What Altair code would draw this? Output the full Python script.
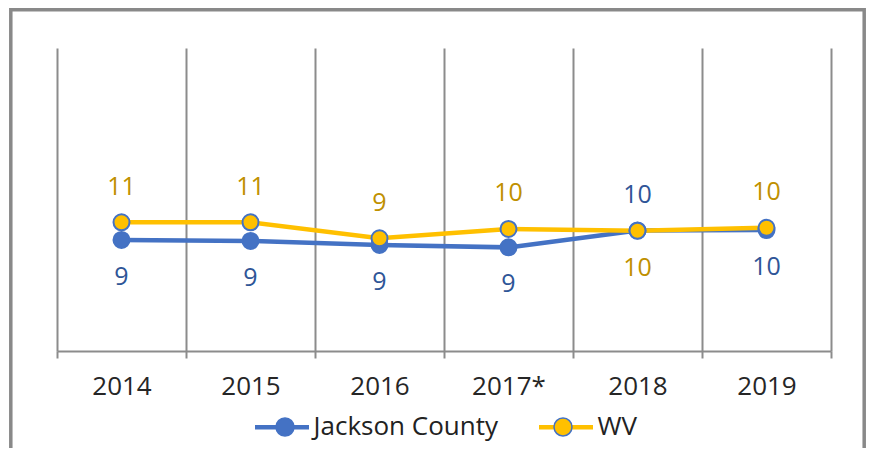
import altair as alt
import pandas as pd

FONT = "Open Sans"

years = ["2014", "2015", "2016", "2017*", "2018", "2019"]
jackson_county = [9.16, 9.08, 8.75, 8.55, 9.95, 9.98]
wv = [10.62, 10.62, 9.30, 10.07, 9.92, 10.17]
series_names = ["Jackson County", "WV"]
series_colors = ["#4472C4", "#FFC000"]
label_colors = ["#2F5597", "#BF9000"]

rows = []
for i, yr in enumerate(years):
    for name, vals, other in [("Jackson County", jackson_county, wv), ("WV", wv, jackson_county)]:
        rows.append({"year": yr, "series": name, "entity": name,
                     "value": vals[i], "above": bool(vals[i] >= other[i])})
df = pd.DataFrame(rows)

W, H = 774, 303
GRID = "#8C8C8C"

base = alt.Chart(df).encode(
    x=alt.X("year:N", sort=years, title=None,
            scale=alt.Scale(paddingInner=0, paddingOuter=0),
            axis=alt.Axis(labelAngle=0, labelFont=FONT, labelFontSize=26, labelColor="#262626",
                          labelPadding=15, domainColor=GRID, domainWidth=2,
                          tickColor=GRID, tickWidth=2, tickSize=7, tickBand="extent",
                          grid=True, gridColor=GRID, gridWidth=2)),
    y=alt.Y("value:Q", scale=alt.Scale(domain=[0, 25]), axis=None),
)

LX = 195.5
LABEL_W = 183  # approx. rendered width of the first legend label
lines = base.mark_line(strokeWidth=4.5).encode(
    color=alt.Color("series:N", scale=alt.Scale(domain=series_names, range=series_colors),
                    legend=alt.Legend(title=None, orient="none", legendX=LX, legendY=349.5,
                                      direction="horizontal", columns=2,
                                      symbolType="stroke", symbolSize=2916, symbolStrokeWidth=4.5,
                                      labelFont=FONT, labelFontSize=26, labelColor="#222222",
                                      labelLimit=400, labelOffset=2, columnPadding=31, padding=0))
)

points = base.mark_point(filled=True, size=256, opacity=1).encode(
    fill=alt.Fill("entity:N", scale=alt.Scale(range=series_colors),
                  legend=alt.Legend(title=None, orient="none", legendX=LX + 19.5, legendY=366,
                                    direction="horizontal", columns=2,
                                    symbolType="circle", symbolSize=324,
                                    symbolStrokeColor="#4472C4", symbolStrokeWidth=1.5,
                                    symbolOpacity=1, labelExpr="''",
                                    labelFont=FONT, labelFontSize=26,
                                    labelOffset=0, columnPadding=LABEL_W + 69, padding=0)),
    stroke=alt.value("#4472C4"),
    strokeWidth=alt.value(2),
)

text_color = alt.condition(alt.datum.series == "WV",
                           alt.value(label_colors[1]), alt.value(label_colors[0]))
labels_above = base.transform_filter("datum.above").mark_text(
    dy=-35.5, fontSize=25, font=FONT).encode(
    text=alt.Text("value:Q", format=".0f"), color=text_color)
labels_below = base.transform_filter("!datum.above").mark_text(
    dy=37, fontSize=25, font=FONT).encode(
    text=alt.Text("value:Q", format=".0f"), color=text_color)

frame = alt.Chart(alt.Data(values=[{}])).mark_rect(
    filled=False, stroke="#898989", strokeWidth=3.5).encode(
    x=alt.value(-46.2), x2=alt.value(807.2), y=alt.value(-38.2), y2=alt.value(470))

chart = alt.layer(frame, lines, points, labels_above, labels_below).properties(
    width=W, height=H,
    autosize=alt.AutoSizeParams(type="none"),
    padding={"left": 49, "top": 40, "right": 35, "bottom": 97},
    background="white",
).configure_view(stroke=None)

chart.save("out.html", embed_options={"renderer": "svg", "actions": False})
